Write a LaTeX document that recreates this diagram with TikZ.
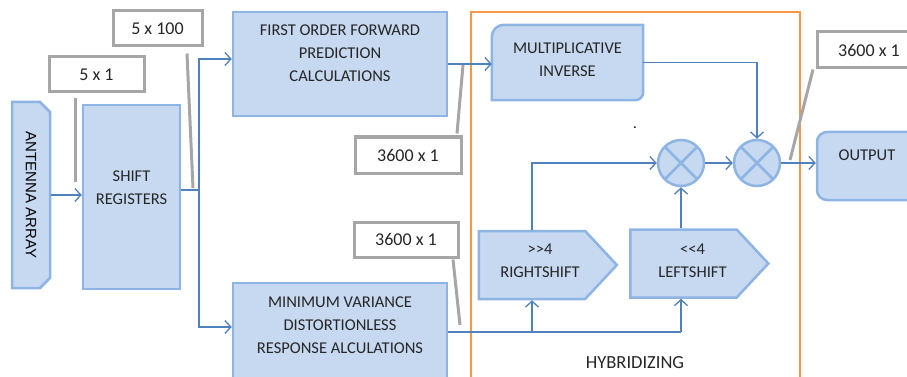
\documentclass[tikz,border=0pt]{standalone}
\usepackage{fontspec}
\setmainfont{Carlito}
\newfontfamily\antfont{Liberation Sans}
\usetikzlibrary{arrows.meta,positioning,calc,shapes.misc,shapes.symbols}
\definecolor{boxfill}{RGB}{198,217,241}
\definecolor{boxline}{RGB}{141,180,227}
\definecolor{flowblue}{RGB}{79,129,189}
\definecolor{taggray}{RGB}{166,166,166}
\definecolor{hybrid}{RGB}{247,150,70}

\tikzset{
  blockbox/.style={draw=boxline, fill=boxfill, line width=2.5pt, inner sep=0pt},
  blocktext/.style={align=center, text=black!85, font=\fontsize{16.5}{23}\selectfont},
  sizebox/.style={draw=taggray, fill=white, line width=3pt, text=black!85,
    font=\fontsize{18}{20}\selectfont},
  tagline/.style={draw=taggray, line width=3pt},
  wire/.style={draw=flowblue, line width=1.3pt},
  flow/.style={wire, -{Straight Barb[length=6pt,width=13pt,line width=1.3pt]}},
  mixer/.style={circle, blockbox, minimum size=46pt,
    path picture={\draw[boxline, line width=2.5pt]
      (path picture bounding box.north west) -- (path picture bounding box.south east)
      (path picture bounding box.south west) -- (path picture bounding box.north east);}},
  shifter/.style={blockbox, signal, signal to=east, signal pointer angle=94,
    minimum width=138pt, minimum height=68pt}
}

\begin{document}
\begin{tikzpicture}[x=1pt,y=-1pt]
\clip (0,0) rectangle (907,377);
\useasboundingbox (0,0) rectangle (907,377);

% hybridizing frame
\node[draw=hybrid, line width=2.5pt, minimum width=329pt, minimum height=400pt] (hyb) at (635.5,212) {};
\node[blocktext, font=\fontsize{18.5}{20}\selectfont] (hybtext) at (635,363) {HYBRIDIZING};

% input side
\node[blockbox, chamfered rectangle, chamfered rectangle corners={north east,south east},
  chamfered rectangle xsep=5pt, chamfered rectangle ysep=5pt,
  minimum width=38pt, minimum height=186pt] (ant) at (31,195)
  {\antfont\fontsize{15}{15}\selectfont\rotatebox{-90}{ANTENNA ARRAY}};
\node[blockbox, minimum width=97pt, minimum height=184pt,
  label={[blocktext, yshift=9pt]center:{SHIFT\\REGISTERS}}] (reg) at (131.5,197) {};

\node[blockbox, minimum width=214pt, minimum height=104pt,
  label={[blocktext, yshift=11pt]center:{FIRST ORDER FORWARD\\PREDICTION\\CALCULATIONS}}] (fofp) at (340,64) {};
\node[blockbox, minimum width=214pt, minimum height=98pt,
  label={[blocktext, yshift=7pt]center:{MINIMUM VARIANCE\\DISTORTIONLESS\\RESPONSE ALCULATIONS}}] (mvdr) at (340,332) {};

% multiplicative inverse (two round corners)
\node[blocktext, minimum width=151pt, minimum height=75pt] (inv) at (567.5,62.5) {};
\draw[blockbox] (inv.south west) -- ([yshift=-12pt]inv.north west)
  arc[start angle=180, end angle=270, radius=12] -- (inv.north east)
  -- ([yshift=8pt]inv.south east) arc[start angle=0, end angle=90, radius=8] -- cycle;
\node[blocktext] (invtext) at (567.5,59.5) {MULTIPLICATIVE\\INVERSE};

\node[shifter, label={[blocktext, xshift=8pt, yshift=4pt]center:{>{}>4\\RIGHTSHIFT}}] (rsh) at (532,265) {};
\node[shifter, label={[blocktext, xshift=9pt, yshift=3pt]center:{<{}<4\\LEFTSHIFT}}] (lsh) at (683.5,263.5) {};

\node[mixer] (mix1) at (681,163) {};
\node[mixer] (mix2) at (757,163) {};
\node[blocktext] (dot) at (635,128) {.};

\node[blockbox, rounded corners=10pt, minimum width=123pt, minimum height=68pt] (out) at (878.5,166) {};
\node[blocktext] (outtext) at (867,155) {OUTPUT};

% size tags
\node[sizebox, minimum width=95pt, minimum height=35pt] (s1) at (96.5,74.5) {5 x 1};
\node[sizebox, minimum width=89pt, minimum height=35pt] (s2) at (157.5,28.5) {5 x 100};
\node[sizebox, minimum width=106pt, minimum height=36pt] (s3) at (408,155) {3600 x 1};
\node[sizebox, minimum width=104pt, minimum height=35pt] (s4) at (406,239.5) {3600 x 1};
\node[sizebox, minimum width=104pt, minimum height=36pt] (s5) at (869,50) {3600 x 1};

% bus points
\coordinate (split) at (199,190);
\coordinate (rbus) at (532,332);
\coordinate (lbus) at (681,332);

% signal flow
\draw[flow] (ant.east) -- (ant.east -| reg.west);
\draw[wire] (reg.east |- split) -- (split);
\draw[flow] (split) |- ([yshift=5pt]fofp.west);
\draw[flow] (split) |- ([yshift=5pt]mvdr.west);
\draw[flow] (fofp.east) -- (fofp.east -| inv.west);
\draw[flow] (inv.east) -| (mix2.north);
\draw[wire] (mvdr.east) -- (lbus);
\draw[flow] (rbus) -- (rbus |- rsh.south);
\draw[flow] (lbus) -- (lbus |- lsh.south);
\draw[flow] (rbus |- rsh.north) |- (mix1.west);
\draw[flow] (lbus |- lsh.north) -- (mix1.south);
\draw[flow] (mix1.east) -- (mix2.west);
\draw[flow] (mix2.east) -- (mix2.east -| out.west);

% tag pointers
\coordinate (t1) at (75,182);
\coordinate (t2) at (193,188);
\coordinate (t3) at (463,65);
\coordinate (t4) at (460,325);
\coordinate (t5) at (790,160);
\draw[tagline] ([xshift=-21.5pt,yshift=-5pt]s1.south) -- (t1);
\draw[tagline] ([xshift=29.5pt,yshift=-6pt]s2.south) -- (t2);
\draw[tagline] ([xshift=49pt,yshift=2pt]s3.north) -- (t3);
\draw[tagline] ([xshift=47pt,yshift=-1pt]s4.south) -- (t4);
\draw[tagline] ([xshift=-56pt]s5.south) -- (t5);
\end{tikzpicture}
\end{document}
